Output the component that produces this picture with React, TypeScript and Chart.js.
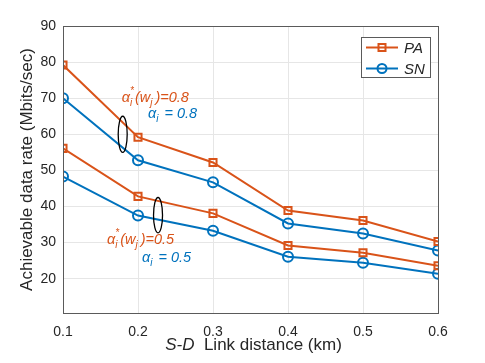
import React, { useEffect, useRef } from "react";
import { Chart, registerables } from "chart.js";

Chart.register(...registerables);

const distances = [0.1, 0.2, 0.3, 0.4, 0.5, 0.6];
const paHigh = [79.2, 59.2, 52.2, 38.9, 36.1, 30.3];
const snHigh = [70.0, 52.8, 46.7, 35.3, 32.5, 27.8];
const paLow = [56.1, 42.8, 38.1, 29.2, 27.2, 23.6];
const snLow = [48.3, 37.5, 33.3, 26.1, 24.4, 21.4];
const yTicks = [20, 30, 40, 50, 60, 70, 80, 90];
const xTickLabels = ["0.1", "0.2", "0.3", "0.4", "0.5", "0.6"];

const ORANGE = "#D95319";
const BLUE = "#0072BD";
const TEXT = "#262626";
const AXIS = "#5a5a5a";
const FONT = "'Liberation Sans', Arial, sans-serif";

// annotation anchors in data coordinates
const ellipses = [
  { x: 0.1796, y: 60.0, hx: 0.006, hy: 5.0 },
  { x: 0.2267, y: 37.6, hx: 0.006, hy: 4.9 },
];
const labels = [
  { x: 0.1783, y: 68.9, color: ORANGE, kind: "star", value: "0.8" },
  { x: 0.2133, y: 64.4, color: BLUE, kind: "plain", value: "0.8" },
  { x: 0.1587, y: 29.7, color: ORANGE, kind: "star", value: "0.5" },
  { x: 0.2053, y: 24.7, color: BLUE, kind: "plain", value: "0.5" },
];

function toPts(ys: number[]) {
  return distances.map((x, i) => ({ x, y: ys[i] }));
}

const overlay = {
  id: "overlay",
  afterDraw(chart: any) {
    const ctx = chart.ctx as CanvasRenderingContext2D;
    const ca = chart.chartArea;
    const xs = chart.scales.x;
    const ys = chart.scales.y;
    ctx.save();
    // box
    ctx.strokeStyle = AXIS;
    ctx.lineWidth = 1;
    ctx.strokeRect(Math.round(ca.left) + 0.5, Math.round(ca.top) + 0.5, Math.round(ca.right - ca.left), Math.round(ca.bottom - ca.top));

    // ellipses
    ctx.strokeStyle = "#000";
    ctx.lineWidth = 1.3;
    for (const e of ellipses) {
      const cx = xs.getPixelForValue(e.x);
      const cy = ys.getPixelForValue(e.y);
      const rx = Math.abs(xs.getPixelForValue(e.x + e.hx) - cx);
      const ry = Math.abs(ys.getPixelForValue(e.y + e.hy) - cy);
      ctx.beginPath();
      ctx.ellipse(cx, cy, rx, ry, 0, 0, Math.PI * 2);
      ctx.stroke();
    }

    // math labels
    const big = `italic 14.5px ${FONT}`;
    const small = `italic 10px ${FONT}`;
    ctx.textBaseline = "alphabetic";
    ctx.textAlign = "left";
    for (const l of labels) {
      let px = xs.getPixelForValue(l.x);
      const py = ys.getPixelForValue(l.y);
      ctx.fillStyle = l.color;
      ctx.font = big;
      ctx.fillText("α", px, py);
      px += ctx.measureText("α").width;
      ctx.font = small;
      ctx.fillText("i", px, py + 4);
      let adv = ctx.measureText("i").width;
      if (l.kind === "star") {
        ctx.fillText("*", px, py - 8);
        adv = Math.max(adv, ctx.measureText("*").width);
        px += adv + 1;
        ctx.font = big;
        ctx.fillText("(w", px, py);
        px += ctx.measureText("(w").width;
        ctx.font = small;
        ctx.fillText("j", px, py + 4);
        px += ctx.measureText("j").width + 3;
        ctx.font = big;
        ctx.fillText(")=" + l.value, px, py);
      } else {
        px += adv + 2;
        ctx.font = big;
        ctx.fillText(" = " + l.value, px, py);
      }
    }

    // legend
    const lx = 361, ly = 37, lw = 69, lh = 40;
    ctx.fillStyle = "#fff";
    ctx.fillRect(lx, ly, lw, lh);
    ctx.strokeStyle = AXIS;
    ctx.lineWidth = 1;
    ctx.strokeRect(lx + 0.5, ly + 0.5, lw, lh);
    const rows = [
      { label: "PA", color: ORANGE, shape: "sq", y: 47.5 },
      { label: "SN", color: BLUE, shape: "ci", y: 68.5 },
    ];
    for (const r of rows) {
      ctx.strokeStyle = r.color;
      ctx.lineWidth = 2;
      ctx.beginPath();
      ctx.moveTo(366, r.y);
      ctx.lineTo(398, r.y);
      ctx.stroke();
      ctx.beginPath();
      if (r.shape === "sq") {
        ctx.rect(378.5, r.y - 3.5, 7, 7);
      } else {
        ctx.arc(382, r.y, 4.5, 0, Math.PI * 2);
      }
      ctx.stroke();
      ctx.fillStyle = TEXT;
      ctx.font = `italic 15px ${FONT}`;
      ctx.textBaseline = "middle";
      ctx.fillText(r.label, 404, r.y + 1);
    }

    // y title
    ctx.fillStyle = TEXT;
    ctx.font = `17px ${FONT}`;
    ctx.textAlign = "center";
    ctx.textBaseline = "middle";
    ctx.save();
    ctx.translate(27, (ca.top + ca.bottom) / 2);
    ctx.rotate(-Math.PI / 2);
    ctx.fillText("Achievable data rate (Mbits/sec)", 0, 0);
    ctx.restore();

    // x title
    ctx.textAlign = "left";
    ctx.textBaseline = "middle";
    const p1 = "S-D";
    const p2 = "  Link distance (km)";
    ctx.font = `italic 17px ${FONT}`;
    const w1 = ctx.measureText(p1).width;
    ctx.font = `17px ${FONT}`;
    const w2 = ctx.measureText(p2).width;
    const cx = (ca.left + ca.right) / 2;
    const sx = cx - (w1 + w2) / 2 + 3;
    ctx.font = `italic 17px ${FONT}`;
    ctx.fillText(p1, sx, 345);
    ctx.font = `17px ${FONT}`;
    ctx.fillText(p2, sx + w1, 345);
    ctx.restore();
  },
};

export default function App() {
  const ref = useRef<HTMLCanvasElement | null>(null);
  useEffect(() => {
    if (!ref.current) return;
    const mk = (label: string, ys: number[], color: string, shape: string) => ({
      label,
      data: toPts(ys),
      borderColor: color,
      backgroundColor: "transparent",
      borderWidth: 2,
      pointStyle: shape,
      pointRadius: 5,
      pointBorderWidth: 2,
      pointBackgroundColor: "transparent",
      pointBorderColor: color,
      tension: 0,
    });
    const chart = new Chart(ref.current, {
      type: "line",
      data: {
        datasets: [
          mk("PA", paHigh, ORANGE, "rect"),
          mk("SN", snHigh, BLUE, "circle"),
          mk("PA", paLow, ORANGE, "rect"),
          mk("SN", snLow, BLUE, "circle"),
        ],
      },
      options: {
        animation: false,
        responsive: false,
        layout: { padding: { left: 0, top: 26, right: 47, bottom: 0 } },
        plugins: { legend: { display: false }, tooltip: { enabled: false } },
        scales: {
          x: {
            type: "linear",
            min: 0.1,
            max: 0.6,
            afterBuildTicks: (axis: any) => {
              axis.ticks = distances.map((v) => ({ value: v }));
            },
            afterFit: (s: any) => {
              s.height = 50;
            },
            ticks: {
              callback: (_v: any, i: number) => xTickLabels[i],
              font: { family: FONT, size: 14 },
              color: TEXT,
              padding: 11,
              maxRotation: 0,
            },
            grid: { color: "#e6e6e6", drawTicks: false },
            border: { display: true, color: AXIS },
          },
          y: {
            min: 10.5,
            max: 90,
            afterBuildTicks: (axis: any) => {
              axis.ticks = yTicks.map((v) => ({ value: v }));
            },
            afterFit: (s: any) => {
              s.width = 63;
            },
            ticks: {
              font: { family: FONT, size: 14 },
              color: TEXT,
              padding: 7,
            },
            grid: { color: "#e6e6e6", drawTicks: false },
            border: { display: true, color: AXIS },
          },
        },
      },
      plugins: [overlay],
    } as any);
    return () => chart.destroy();
  }, []);
  return (
    <div style={{ position: "absolute", left: 0, top: 0, width: 485, height: 363, background: "#fff" }}>
      <canvas ref={ref} width={485} height={363} />
    </div>
  );
}
